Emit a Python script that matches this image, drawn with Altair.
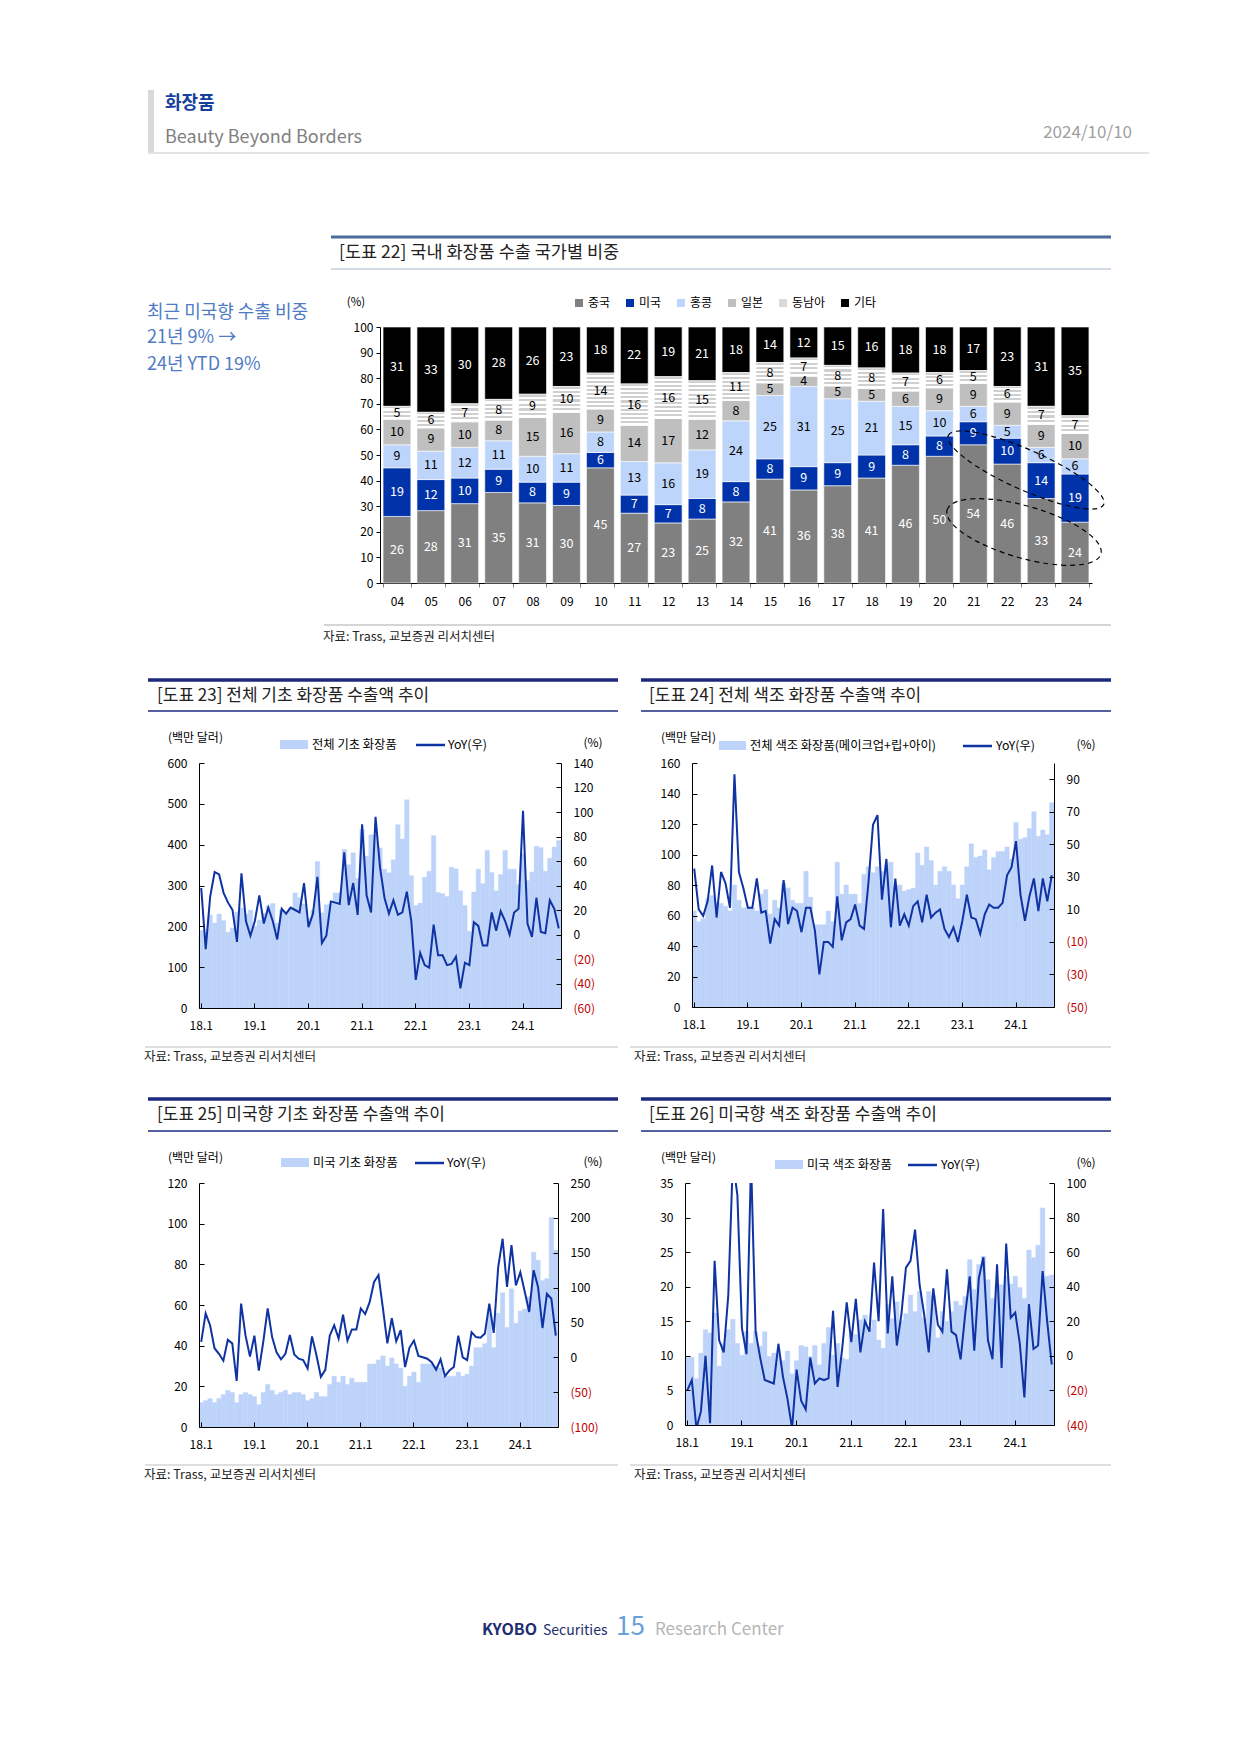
import altair as alt
import pandas as pd

FONT = "Noto Sans CJK KR"

# ---------------- data: [도표 22] export share by destination (%) ----------------
years = ["04", "05", "06", "07", "08", "09", "10", "11", "12", "13", "14",
         "15", "16", "17", "18", "19", "20", "21", "22", "23", "24"]
share_series = ["중국", "미국", "홍콩", "일본", "동남아", "기타"]
share_china = [26, 28, 31, 35, 31, 30, 45, 27, 23, 25, 32, 41, 36, 38, 41, 46, 50, 54, 46, 33, 24]
share_us = [19, 12, 10, 9, 8, 9, 6, 7, 7, 8, 8, 8, 9, 9, 9, 8, 8, 9, 10, 14, 19]
share_hk = [9, 11, 12, 11, 10, 11, 8, 13, 16, 19, 24, 25, 31, 25, 21, 15, 10, 6, 5, 6, 6]
share_jp = [10, 9, 10, 8, 15, 16, 9, 14, 17, 12, 8, 5, 4, 5, 5, 6, 9, 9, 9, 9, 10]
share_sea = [5, 6, 7, 8, 9, 10, 14, 16, 16, 15, 11, 8, 7, 8, 8, 7, 6, 5, 6, 7, 7]
share_etc = [31, 33, 30, 28, 26, 23, 18, 22, 19, 21, 18, 14, 12, 15, 16, 18, 18, 17, 23, 31, 35]

# ---------------- data: monthly series (18.1 ~ 24.9) ----------------
months = [f"{y}.{m}" for y in range(18, 25) for m in range(1, 13)][:81]
year_ticks = ["18.1", "19.1", "20.1", "21.1", "22.1", "23.1", "24.1"]

basic_total = [190, 185, 228, 208, 230, 214, 186, 196, 235, 245, 230, 240,
               200, 215, 232, 250, 256, 208, 240, 235, 245, 282, 270, 255,
               220, 240, 359, 233, 253, 255, 282, 282, 388, 351, 380, 317,
               437, 372, 424, 424, 392, 340, 331, 363, 449, 414, 510, 324,
               251, 257, 320, 335, 422, 283, 280, 273, 345, 341, 287, 251,
               188, 284, 340, 305, 386, 332, 287, 327, 386, 340, 340, 302,
               378, 312, 333, 396, 393, 335, 367, 394, 410]
basic_total_yoy = [38, -12, 31, 51, 49, 34, 26, 20, -6, 50, 11, -1,
                   11, 32, 9, 22, 11, -4, 21, 17, 22, 20, 18, 42,
                   6, 17, 47, -7, -1, 27, 26, 25, 67, 24, 42, 16,
                   90, 32, 18, 96, 55, 30, 17, 28, 16, 18, 35, 11,
                   -37, -15, -25, -27, 8, -17, -17, -25, -24, -18, -44, -23,
                   -25, 10, 7, -9, -9, 18, 3, 19, 11, 0, 18, 21,
                   101, 9, -2, 30, 2, 1, 28, 21, 5]

color_total = [63, 56, 58, 71, 73, 69, 68, 66, 63, 80, 70, 65,
               65, 65, 63, 74, 77, 61, 70, 65, 81, 78, 70, 68,
               68, 89, 72, 54, 54, 54, 63, 56, 95, 74, 80, 74,
               74, 68, 87, 92, 88, 92, 89, 93, 95, 79, 80, 76,
               77, 78, 101, 93, 105, 96, 80, 89, 92, 89, 80, 71,
               80, 92, 107, 98, 99, 103, 90, 98, 102, 102, 105, 97,
               121, 110, 111, 117, 128, 112, 116, 113, 134]
color_total_yoy = [35, 10, 6, 15, 37, 5, 33, 26, 11, 93, 33, 23,
                   11, 11, 29, 8, 9, -11, 4, 0, 28, 1, 11, 9,
                   -4, 11, 11, -3, -30, -10, -10, -13, 18, -9, 2, 4,
                   13, 0, -2, 27, 62, 68, 16, 41, -1, 29, 0, 7,
                   0, 12, 15, 2, 19, 5, 8, 10, -2, -7, -1, -10,
                   3, 19, 5, 4, -5, 7, 13, 11, 11, 14, 31, 36,
                   52, 19, 3, 18, 29, 9, 29, 15, 31]

us_basic = [12, 13, 14, 12, 14, 16, 18, 17, 12, 16, 17, 16,
            15, 11, 17, 21, 18, 16, 17, 18, 16, 17, 17, 16,
            13, 14, 17, 15, 15, 21, 25, 22, 25, 21, 24, 22,
            22, 22, 31, 31, 33, 35, 30, 34, 31, 29, 20, 25,
            27, 22, 31, 31, 31, 30, 29, 25, 25, 25, 27, 25,
            26, 30, 39, 39, 41, 56, 39, 56, 66, 49, 68, 51,
            57, 58, 64, 86, 82, 72, 73, 103, 87]
us_basic_yoy = [22, 63, 46, 13, 5, -5, 25, 20, -34, 77, 31, 1,
                31, -19, 22, 70, 29, 7, -3, 5, 32, 4, -2, -4,
                -16, 30, 3, -28, -18, 31, 46, 27, 61, 24, 40, 40,
                70, 62, 79, 108, 118, 70, 20, 56, 23, 39, -14, 14,
                24, 2, 0, -2, -7, -18, -3, -27, -19, -14, 31, 0,
                -4, 36, 29, 28, 34, 77, 35, 129, 170, 101, 161, 103,
                122, 94, 65, 125, 101, 42, 91, 84, 31]

us_color = [9.8, 9.8, 6.7, 10.4, 13.8, 13.3, 16.2, 8.5, 11.8, 13.8, 15.3, 11.8,
            10.1, 13.5, 11.8, 13.5, 11.4, 13.5, 9.9, 10.4, 10.2, 9.3, 10.7, 7.4,
            9.3, 11.5, 11.3, 9.9, 11.5, 8.7, 11.8, 14.1, 10.1, 11.8, 9.7, 9.5,
            13.0, 13.1, 15.2, 15.9, 14.0, 15.2, 12.3, 11.1, 17.4, 15.4, 17.8, 15.1,
            16.1, 18.8, 16.4, 19.3, 15.5, 19.3, 18.7, 12.6, 16.4, 15.0, 16.4, 17.9,
            17.3, 18.6, 23.9, 19.6, 23.2, 24.4, 21.0, 18.3, 20.0, 20.3, 21.5, 20.4,
            21.5, 19.9, 18.3, 25.3, 24.2, 26.0, 31.4, 21.5, 21.7]
us_color_yoy = [-20, -14, -42, -32, 0, -39, 55, 9, 2, 35, 113, 93,
                16, 1, 113, 14, -1, -14, -15, -16, 7, -12, -25, -42,
                -8, -26, -31, -1, -16, -13, -14, -13, 26, -18, 4, 31,
                8, 33, 2, 20, 14, 54, 20, 85, 13, 46, 6, 24,
                51, 55, 73, 41, 24, 2, 39, 18, 14, 50, 14, 12,
                -2, 24, 46, 3, 45, 57, 9, -2, 53, -7, 65, 22,
                25, 7, -24, 30, 4, 6, 49, 20, -5]

# ---------------- styles ----------------
share_colors = ["#808080", "#0033aa", "#bdd5fb", "#bfbfbf", "#d9d9d9", "#000000"]
AREA = "#bdd3f9"
NAVY = "#0f33a3"
TITLE_NAVY = "#1d2a7c"
RED = "#c00000"
SOURCE = "자료: Trass, 교보증권 리서치센터"
ONE = alt.Data(values=[{"k": 0}])
TICK_LEN = 5
DASH_GAP = 3000


def text_layer(t, x, y, size=12, color="#222222", align="left", weight="normal", baseline="middle"):
    return alt.Chart(alt.Data(values=[{"t": t}])).mark_text(
        align=align, baseline=baseline, fontSize=size, color=color,
        fontWeight=weight, font=FONT).encode(text="t:N", x=alt.value(x), y=alt.value(y))


def hrule(x1, x2, y, color, width):
    return alt.Chart(ONE).mark_rule(color=color, strokeWidth=width).encode(
        x=alt.value(x1), x2=alt.value(x2), y=alt.value(y))


def box(x1, x2, y1, y2, color):
    return alt.Chart(ONE).mark_rect(color=color).encode(
        x=alt.value(x1), x2=alt.value(x2), y=alt.value(y1), y2=alt.value(y2))


def ellipse(cx, cy, a, b, angle):
    r = b / a
    k = 0.5523
    path = (f"M -1 0 C -1 {-k*r:.4f} {-k:.4f} {-r:.4f} 0 {-r:.4f} "
            f"C {k:.4f} {-r:.4f} 1 {-k*r:.4f} 1 0 "
            f"C 1 {k*r:.4f} {k:.4f} {r:.4f} 0 {r:.4f} "
            f"C {-k:.4f} {r:.4f} -1 {k*r:.4f} -1 0 Z")
    return alt.Chart(ONE).mark_point(
        shape=path, size=4 * a * a, angle=angle, filled=False, stroke="#000000",
        strokeWidth=1.2, strokeDash=[5, 4], opacity=1).encode(x=alt.value(cx), y=alt.value(cy))


def stripes(n):
    stops = []
    for i in range(n):
        a, m, c = i / n, (i + 0.5) / n, (i + 1) / n
        stops += [{"offset": a, "color": "#cfcfcf"}, {"offset": m, "color": "#cfcfcf"},
                  {"offset": m, "color": "#ffffff"}, {"offset": c, "color": "#ffffff"}]
    return {"gradient": "linear", "x1": 0, "y1": 0, "x2": 0, "y2": 1, "stops": stops}


# ---------------- [도표 22] stacked share chart ----------------
rows = []
for i, yv in enumerate(years):
    for j, (s, arr) in enumerate(zip(share_series, [share_china, share_us, share_hk, share_jp, share_sea, share_etc])):
        rows.append({"year": yv, "series": s, "val": arr[i], "order": j})
share_df = pd.DataFrame(rows)

BW, BH = 712, 256
base = alt.Chart(share_df).transform_stack(
    stack="val", groupby=["year"], as_=["y0", "y1"], offset="normalize",
    sort=[alt.SortField("order", order="ascending")]
).transform_calculate(mid="(datum.y0 + datum.y1) / 2")

x_share = alt.X("year:N", sort=years, title=None,
                scale=alt.Scale(paddingInner=0.18, paddingOuter=0.09),
                axis=alt.Axis(labelAngle=0, tickBand="extent", tickSize=4, tickColor="#808080",
                              labelPadding=9, labelFontSize=12, labelColor="#000000",
                              domainColor="#000000"))
y_scale = alt.Scale(domain=[0, 1], nice=False)
y_axis = alt.Axis(values=[i / 10 for i in range(11)], labelExpr="format(datum.value * 100, 'd')",
                  tickSize=4, labelPadding=3, labelFontSize=12, labelColor="#000000",
                  domainColor="#000000", tickColor="#000000", grid=False)

share_bars = base.mark_bar(stroke="white", strokeWidth=0.6).encode(
    x=x_share,
    y=alt.Y("y0:Q", scale=y_scale, axis=y_axis, title=None),
    y2="y1:Q",
    color=alt.Color("series:N", sort=share_series,
                    scale=alt.Scale(domain=share_series, range=share_colors),
                    legend=alt.Legend(orient="none", legendX=374, legendY=-30, direction="horizontal",
                                      title=None, symbolType="square", symbolSize=64,
                                      symbolStrokeWidth=0, labelFontSize=12, labelFont=FONT,
                                      labelOffset=3, columnPadding=13, labelColor="#000000")),
)

sea_conds = []
for v in sorted(set(share_sea)):
    n = max(2, round(v * 2.56 / 4.2))
    sea_conds.append({"test": f"datum.val == {v}", "value": stripes(n)})

share_sea_bars = base.transform_filter("datum.series == '동남아'").mark_bar(
    stroke="white", strokeWidth=0.6).encode(
    x=x_share,
    y=alt.Y("y0:Q", scale=y_scale, axis=y_axis, title=None),
    y2="y1:Q",
    fill={"condition": sea_conds, "value": stripes(6)},
)

share_text = base.mark_text(fontSize=12.5, font=FONT).encode(
    x=x_share,
    y=alt.Y("mid:Q", scale=y_scale, axis=y_axis, title=None),
    text=alt.Text("val:Q", format="d"),
    color=alt.condition("datum.series == '중국' || datum.series == '미국' || datum.series == '기타'",
                        alt.value("#ffffff"), alt.value("#000000")),
)

bar_deco = [
    box(-372, -371, -319, -318, "#ffffff"),
    box(-232, -226, -237, -175, "#d9d9d9"),
    hrule(-232, 769, -174, "#e3e3e3", 2),
    text_layer("화장품", -215, -223, size=18, color="#173f9e", weight="bold"),
    text_layer("Beauty Beyond Borders", -215, -189, size=18, color="#7f7f7f"),
    text_layer("2024/10/10", 752, -194, size=17, color="#a0a0a0", align="right"),
    hrule(-49, 731, -90, "#4d6b9b", 3),
    text_layer("[도표 22] 국내 화장품 수출 국가별 비중", -41, -74, size=17.5),
    hrule(-49, 731, -58, "#a7b7cf", 1),
    text_layer("최근 미국향 수출 비중", -233, -14, size=18, color="#4f7cc4"),
    text_layer("21년 9% →", -233, 11, size=18, color="#4f7cc4"),
    text_layer("24년 YTD 19%", -233, 38, size=18, color="#4f7cc4"),
    text_layer("(%)", -24, -24, size=11.5, align="center", color="#000000"),
    hrule(-56, 731, 298, "#d5d5d5", 2),
    text_layer(SOURCE, -57, 310, size=12.5),
    ellipse(646, 143, 85, 20, 24),
    ellipse(644, 205, 80, 26, 16),
]

bar_panel = alt.layer(share_bars, share_sea_bars, share_text, *bar_deco).properties(width=BW, height=BH)

# ---------------- dual-axis panels ----------------
RIGHT_LABEL = "datum.value < 0 ? '(' + format(-datum.value, 'd') + ')' : format(datum.value, 'd')"


def dual_panel(bars, yoy, w, h, left_dom, left_vals, right_dom, right_vals, deco):
    df = pd.DataFrame({"month": months, "value": bars, "yoy": yoy})
    # short inward ticks drawn as dashed grid lines that start at the axis line
    xenc = alt.X("month:N", sort=months, title=None,
                 scale=alt.Scale(paddingInner=0, paddingOuter=0),
                 axis=alt.Axis(values=year_ticks, labelAngle=0, ticks=False, tickSize=0,
                               labelPadding=12, labelFontSize=12, labelColor="#000000",
                               domainColor="#000000", grid=True, gridColor="#000000",
                               gridDash=[TICK_LEN, DASH_GAP],
                               gridDashOffset=TICK_LEN + DASH_GAP - (h - TICK_LEN), zindex=1))
    area = alt.Chart(df).mark_bar(color=AREA, stroke=AREA, strokeWidth=0.4).encode(
        x=xenc,
        y=alt.Y("value:Q", title=None, scale=alt.Scale(domain=left_dom, nice=False),
                axis=alt.Axis(values=left_vals, orient="left", ticks=False, tickSize=0,
                              labelPadding=12, labelFontSize=12, labelColor="#000000",
                              domainColor="#000000", grid=True, gridColor="#000000",
                              gridDash=[TICK_LEN, DASH_GAP], zindex=1)))
    line = alt.Chart(df).mark_line(color=NAVY, strokeWidth=2, clip=True).encode(
        x=xenc,
        y=alt.Y("yoy:Q", title=None, scale=alt.Scale(domain=right_dom, nice=False, zero=False),
                axis=alt.Axis(values=right_vals, orient="right", ticks=False, tickSize=0,
                              labelPadding=12, labelFontSize=12, labelExpr=RIGHT_LABEL,
                              labelColor={"condition": {"test": "datum.value < 0", "value": RED},
                                          "value": "#000000"},
                              domainColor="#000000", grid=True, gridColor="#000000",
                              gridDash=[TICK_LEN, DASH_GAP], zindex=1)))
    return alt.layer(area, line, *deco).resolve_scale(y="independent").properties(width=w, height=h)


def panel_deco(title, legend_label, tl0, tl1, title_x, ythick, ytitle, ythin,
               unit_x, unit_y, sw0, sw1, lab_x, ln0, ln1, yoy_x, leg_y, pct_x, pct_y,
               sl0, src_line_y, src_x, src_y):
    return [
        hrule(tl0, tl1, ythick, TITLE_NAVY, 3.5),
        text_layer(title, title_x, ytitle, size=17),
        hrule(tl0, tl1, ythin, TITLE_NAVY, 1.3),
        text_layer("(백만 달러)", unit_x, unit_y, size=12, color="#000000"),
        box(sw0, sw1, leg_y - 5, leg_y + 4, AREA),
        text_layer(legend_label, lab_x, leg_y, size=12.3, color="#000000"),
        hrule(ln0, ln1, leg_y, NAVY, 2.5),
        text_layer("YoY(우)", yoy_x, leg_y, size=12.3, color="#000000"),
        text_layer("(%)", pct_x, pct_y, size=12, color="#000000", align="center"),
        hrule(sl0, tl1, src_line_y, "#d5d5d5", 1.5),
        text_layer(SOURCE, src_x, src_y, size=12.5),
    ]


p23 = dual_panel(
    basic_total, basic_total_yoy, 362, 245, [0, 600], list(range(0, 601, 100)),
    [-60, 140], list(range(-60, 141, 20)),
    panel_deco("[도표 23] 전체 기초 화장품 수출액 추이", "전체 기초 화장품",
               -51, 419, -42, -83, -67, -52, -31, -25, 81, 109, 113, 217, 246, 249, -18,
               394, -20, -54, 284, -55, 294))

p24 = dual_panel(
    color_total, color_total_yoy, 362, 244, [0, 160], list(range(0, 161, 20)),
    [-50, 100], list(range(-50, 91, 20)),
    panel_deco("[도표 24] 전체 색조 화장품 수출액 추이", "전체 색조 화장품(메이크업+립+아이)",
               -51, 419, -43, -83, -67, -52, -31, -25, 27, 54, 58, 271, 300, 304, -17,
               394, -18, -62, 284, -58, 294))

footer = [
    text_layer("KYOBO", 283, 452, size=16, color="#1e2e6e", weight="bold", baseline="alphabetic"),
    text_layer("Securities", 344, 452, size=14, color="#1e2e6e", baseline="alphabetic"),
    text_layer("15", 417, 452, size=26, color="#6a9fd9", baseline="alphabetic"),
    text_layer("Research Center", 456, 452, size=17, color="#b5b5b5", baseline="alphabetic"),
]

p25 = dual_panel(
    us_basic, us_basic_yoy, 359, 244, [0, 120], list(range(0, 121, 20)),
    [-100, 250], list(range(-100, 251, 50)),
    panel_deco("[도표 25] 미국향 기초 화장품 수출액 추이", "미국 기초 화장품",
               -51, 419, -42, -84, -68, -52, -31, -25, 82, 110, 114, 216, 245, 248, -20,
               394, -21, -54, 282, -55, 292) + footer)

p26 = dual_panel(
    us_color, us_color_yoy, 369, 242, [0, 35], list(range(0, 36, 5)),
    [-40, 100], list(range(-40, 101, 20)),
    panel_deco("[도표 26] 미국향 색조 화장품 수출액 추이", "미국 색조 화장품",
               -44, 426, -36, -84, -68, -52, -24, -25, 90, 118, 122, 223, 252, 256, -18,
               401, -20, -55, 282, -51, 292))

spacer = alt.Chart(ONE).mark_point(opacity=0).encode(
    x=alt.value(0), y=alt.value(0)).properties(width=181, height=1)

# With flush bounds, nested concat groups have no size of their own, so the
# spacing values below are the distances between the tops of the rows.
row1 = alt.hconcat(spacer, bar_panel, spacing=0, bounds="flush")
row2 = alt.hconcat(p23, p24, spacing=131, bounds="flush")
row3 = alt.hconcat(p25, p26, spacing=127, bounds="flush")
lower = alt.vconcat(row2, row3, spacing=420, bounds="flush")

chart = alt.vconcat(row1, lower, spacing=436, bounds="flush").properties(
    padding=0
).configure_view(stroke=None).configure_axis(
    labelFont=FONT, titleFont=FONT
).configure_legend(labelFont=FONT)

chart.save("out.html", embed_options={"renderer": "svg", "actions": False})
